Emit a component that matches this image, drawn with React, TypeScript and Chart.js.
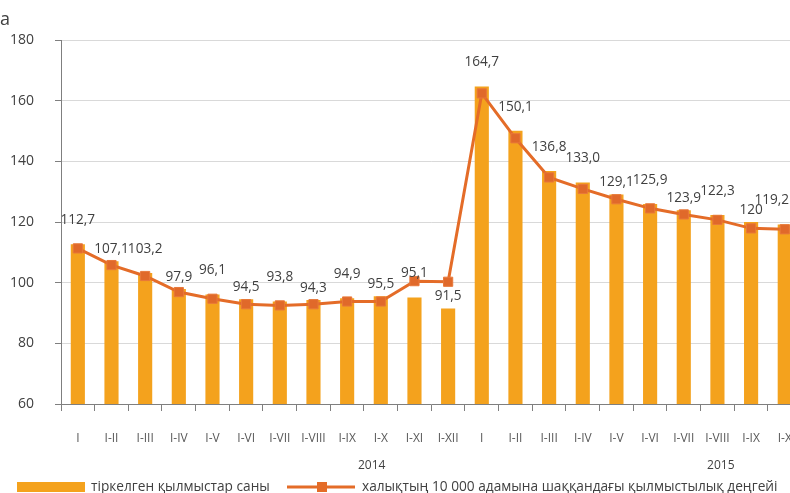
import React, { useEffect, useRef } from "react";
import { Chart, registerables } from "chart.js";
Chart.register(...registerables);

const categories = ["I", "I-II", "I-III", "I-IV", "I-V", "I-VI", "I-VII", "I-VIII", "I-IX", "I-X", "I-XI", "I-XII",
  "I", "I-II", "I-III", "I-IV", "I-V", "I-VI", "I-VII", "I-VIII", "I-IX", "I-X"];
const crimeCounts = [112.7, 107.1, 103.2, 97.9, 96.1, 94.5, 93.8, 94.3, 94.9, 95.5, 95.1, 91.5,
  164.7, 150.1, 136.8, 133.0, 129.1, 125.9, 123.9, 122.3, 120, 119.2];
const crimeLabels = ["112,7", "107,1", "103,2", "97,9", "96,1", "94,5", "93,8", "94,3", "94,9", "95,5", "95,1", "91,5",
  "164,7", "150,1", "136,8", "133,0", "129,1", "125,9", "123,9", "122,3", "120", "119,2"];
const crimeRate = [111.3, 105.8, 102.2, 96.9, 94.7, 92.9, 92.5, 92.9, 93.8, 93.8, 100.5, 100.3,
  162.4, 147.6, 134.7, 130.9, 127.5, 124.5, 122.5, 120.7, 117.9, 117.6];
const yearLabels = ["2014", "2015"];
const yearAnchors = [8.73, 19.1];
const legendLabels = ["тіркелген қылмыстар саны", "халықтың 10 000 адамына шаққандағы қылмыстылық деңгейі"];

const BAR = "#F4A21D";
const LINE = "#E46C28";
const FONT = "'Open Sans', 'Noto Sans', sans-serif";
const VIEW_W = 790;

const overlay = {
  id: "overlay",
  afterDatasetsDraw(chart: any) {
    const ctx = chart.ctx;
    const meta = chart.getDatasetMeta(0);
    ctx.save();
    ctx.font = `13.6px ${FONT}`;
    ctx.fillStyle = "#404040";
    ctx.textAlign = "center";
    ctx.textBaseline = "middle";
    meta.data.forEach((bar: any, i: number) => {
      const high = i < 12 ? i % 2 === 0 : (i < 16 || i % 2 === 1);
      const off = high ? 24 : 12;
      const w = ctx.measureText(crimeLabels[i]).width;
      const x = Math.min(bar.x, VIEW_W - w / 2 - 1);
      ctx.fillText(crimeLabels[i], x, bar.y - off);
    });
    ctx.restore();
  },
  afterDraw(chart: any) {
    const ctx = chart.ctx;
    const xs = chart.scales.x;
    ctx.save();
    // cropped title fragment
    ctx.font = `18px ${FONT}`;
    ctx.fillStyle = "#404040";
    ctx.textAlign = "left";
    ctx.textBaseline = "alphabetic";
    ctx.fillText("а", 0, 25);
    // years
    ctx.font = `12px ${FONT}`;
    ctx.fillStyle = "#404040";
    ctx.textAlign = "center";
    ctx.textBaseline = "middle";
    yearLabels.forEach((t, i) => {
      ctx.fillText(t, xs.getPixelForValue(yearAnchors[i]), 466);
    });
    // legend
    const ly = 487;
    ctx.fillStyle = BAR;
    ctx.fillRect(17, ly - 5, 68, 10);
    ctx.font = `13.7px ${FONT}`;
    ctx.fillStyle = "#404040";
    ctx.textAlign = "left";
    ctx.fillText(legendLabels[0], 91, ly);
    ctx.strokeStyle = LINE;
    ctx.lineWidth = 3;
    ctx.beginPath();
    ctx.moveTo(287, ly);
    ctx.lineTo(355, ly);
    ctx.stroke();
    ctx.fillStyle = LINE;
    ctx.fillRect(317, ly - 5, 10, 10);
    ctx.fillStyle = "#404040";
    ctx.fillText(legendLabels[1], 362, ly);
    ctx.restore();
  },
};

export default function App() {
  const ref = useRef<HTMLCanvasElement>(null);
  useEffect(() => {
    const chart = new Chart(ref.current!, {
      type: "bar",
      data: {
        labels: categories,
        datasets: [
          {
            type: "bar",
            label: legendLabels[0],
            data: crimeCounts,
            backgroundColor: BAR,
            barPercentage: 0.42,
            categoryPercentage: 1,
            order: 2,
          },
          {
            type: "line",
            label: legendLabels[1],
            data: crimeRate,
            borderColor: LINE,
            borderWidth: 3,
            backgroundColor: LINE,
            pointStyle: "rect",
            pointRadius: 6.5,
            pointBorderWidth: 1,
            pointBorderColor: "#E8783A",
            pointBackgroundColor: "#E0692A",
            tension: 0,
            order: 1,
          } as any,
        ],
      },
      options: {
        responsive: false,
        animation: false,
        layout: { padding: { top: 40, left: 0, right: 0, bottom: 0 } },
        plugins: { legend: { display: false }, tooltip: { enabled: false } },
        scales: {
          x: {
            offset: true,
            grid: { display: true, drawOnChartArea: false, drawTicks: true, tickLength: 7, tickColor: "#7F7F7F", offset: true },
            border: { color: "#7F7F7F", width: 1 },
            ticks: { font: { family: FONT, size: 12 }, color: "#595959", padding: 20, maxRotation: 0, autoSkip: false },
            afterFit: (s: any) => { s.height = 89; },
          },
          y: {
            min: 60,
            max: 180,
            ticks: { stepSize: 20, font: { family: FONT, size: 14 }, color: "#404040", padding: 21 },
            grid: { color: "#D9D9D9", tickLength: 6, tickColor: "#7F7F7F" },
            border: { color: "#7F7F7F", width: 1 },
            afterFit: (s: any) => { s.width = 61; },
          },
        },
      },
      plugins: [overlay],
    });
    return () => chart.destroy();
  }, []);
  return (
    <div style={{ position: "fixed", left: 0, top: 0, width: VIEW_W, height: 493, overflow: "hidden", background: "#fff" }}>
      <canvas ref={ref} width={812} height={493} style={{ display: "block", width: 812, height: 493 }} />
    </div>
  );
}
